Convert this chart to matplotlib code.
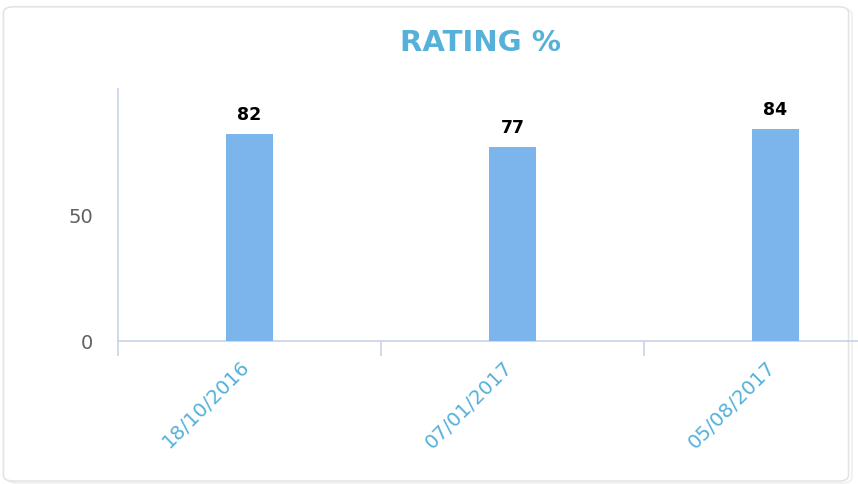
import matplotlib.pyplot as plt
from matplotlib.patches import FancyBboxPatch
from matplotlib.transforms import ScaledTranslation

dates = ["18/10/2016", "07/01/2017", "05/08/2017"]
rating = [82, 77, 84]

bar_color = "#7cb5ec"
title_color = "#55b1da"
axis_color = "#c8d3e6"

fig = plt.figure(figsize=(8.58, 4.85), dpi=100)

# card frame with soft shadow
for off, col in [(0.004, "#f0f0f0"), (0.0, "#e4e4e4")]:
    fig.patches.append(FancyBboxPatch((0.004 + off, 0.006 - off), 0.985, 0.978,
                                      boxstyle="round,pad=0,rounding_size=0.012",
                                      transform=fig.transFigure, facecolor="white",
                                      edgecolor=col, linewidth=1.2, zorder=-5))

ax = fig.add_axes([118 / 858, 143 / 485, 789 / 858, 252 / 485])
ax.set_facecolor("none")

x = range(len(dates))
ax.bar(x, rating, width=0.175, color=bar_color, zorder=3)
for xi, v in zip(x, rating):
    ax.annotate(str(v), (xi, v), xytext=(0, 8), textcoords="offset points",
                ha="center", va="bottom", fontsize=12.5, fontweight="bold", color="black")

ax.set_xlim(-0.5, len(dates) - 0.5)
ax.set_ylim(0, 100)
ax.set_yticks([0, 50])
ax.tick_params(axis="y", length=0, pad=18, labelsize=14, labelcolor="#606060")

ax.set_xticks(list(x))
ax.set_xticklabels(dates)
ax.set_xticks([i - 0.5 for i in range(len(dates) + 1)], minor=True)
ax.tick_params(axis="x", which="major", length=0, pad=11, labelsize=14.3, labelcolor=title_color)
ax.tick_params(axis="x", which="minor", length=11, width=1.2, color=axis_color)
shift = ScaledTranslation(-10 / 100, 0, fig.dpi_scale_trans)
for lab in ax.get_xticklabels():
    lab.set_rotation(45)
    lab.set_ha("right")
    lab.set_rotation_mode("anchor")
    lab.set_transform(lab.get_transform() + shift)

for s in ["top", "right"]:
    ax.spines[s].set_visible(False)
for s in ["left", "bottom"]:
    ax.spines[s].set_color(axis_color)
    ax.spines[s].set_linewidth(1.2)

fig.text(480 / 858, 1 - 43 / 485, "RATING %", ha="center", va="center",
         fontsize=21, fontweight="bold", color=title_color)

fig.savefig("out.png", dpi=100)
